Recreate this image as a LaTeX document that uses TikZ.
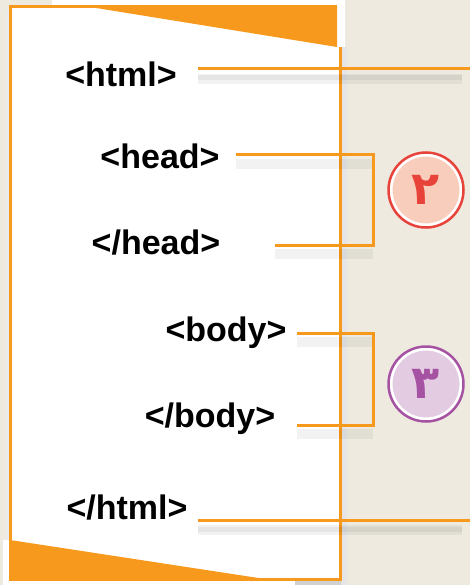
\documentclass[tikz,border=0pt]{standalone}
\usepackage{fontspec}
\setmainfont{Liberation Sans}
\newfontfamily\arabicfont[Script=Arabic]{DejaVu Sans}
\definecolor{bg}{HTML}{EEEAE0}
\definecolor{org}{HTML}{F7991C}
\definecolor{redring}{HTML}{E8433A}
\definecolor{redfill}{HTML}{F9CDBB}
\definecolor{purring}{HTML}{A552A2}
\definecolor{purfill}{HTML}{E3CBE2}
\begin{document}
\begin{tikzpicture}[x=1pt,y=-1pt,
  tag/.style={font=\fontsize{34}{40}\selectfont\bfseries, inner sep=0pt, anchor=center},
  conn/.style={draw=org, line width=3pt},
  shade/.style={draw=black, draw opacity=0.05, line width=10pt},
  shadein/.style={draw=black, draw opacity=0.05, line width=5pt},
  badge/.style={circle, draw=white, line width=3pt, minimum size=70pt, inner sep=0pt},
  digit/.style={font=\arabicfont\bfseries\fontsize{46}{50}\selectfont}]
\useasboundingbox (0,0) rectangle (470,585);
\fill[bg] (0,0) rectangle (470,585);
% box shadow
\fill[black!10] (341,47) rectangle (347,585);
\fill[black!8] (6,10) rectangle (10,585);
% box
\fill[white] (52,0) rectangle (345,47);
\fill[white] (10,7) rectangle (340,580);
\fill[white] (3,540) rectangle (10,585);
\fill[white] (3,580) rectangle (295,585);
\fill[black!18] (295,581) rectangle (341,585);
\fill[org] (90,7) -- (337,7) -- (337,47) -- cycle;
\fill[org] (10,540) -- (265,579) -- (10,579) -- cycle;
\draw[org, line width=3pt] (337,7) -- (10,7) -- (10,579) -- (340,579) -- (340,47);
% texts
\node[tag] (html) at (121,74) {<html>};
\node[tag] (head) at (160,156) {<head>};
\node[tag] (ehead) at (156,243) {</head>};
\node[tag] (body) at (226,333) {<body>};
\node[tag] (ebody) at (210,419) {</body>};
\node[tag] (ehtml) at (127,508) {</html>};
% coordinates
\coordinate (h1) at (198,69);
\coordinate (h2) at (470,69);
\coordinate (e1) at (198,520);
\coordinate (e2) at (470,520);
\coordinate (a1) at (236,155);
\coordinate (a2) at (373,155);
\coordinate (a3) at (373,245);
\coordinate (a4) at (275,245);
\coordinate (b1) at (297,333);
\coordinate (b2) at (373,333);
\coordinate (b3) at (373,425);
\coordinate (b4) at (297,425);
% shadows
\draw[shade] ([yshift=-10pt]h1) -- ([xshift=-8pt,yshift=-10pt]h2);
\draw[shadein] ([yshift=-9pt]h1) -- ([xshift=-8pt,yshift=-9pt]h2);
\draw[shade] ([yshift=-10pt]e1) -- ([xshift=-8pt,yshift=-10pt]e2);
\draw[shadein] ([yshift=-9pt]e1) -- ([xshift=-8pt,yshift=-9pt]e2);
\draw[shade] ([yshift=-9pt]a1) -- ([yshift=-9pt]a2);
\draw[shade] ([yshift=-9pt]b1) -- ([yshift=-9pt]b2);
\draw[shade] ([yshift=-9pt]a4) -- ([yshift=-9pt]a3);
\draw[shade] ([yshift=-9pt]b4) -- ([yshift=-9pt]b3);
% connectors
\draw[conn] (h1) -- (h2);
\draw[conn] (e1) -- (e2);
\draw[conn] (a1) -- (a2) -- (a3) -- (a4);
\draw[conn] (b1) -- (b2) -- (b3) -- (b4);
% badges
\node[badge, fill=redfill] (c2) at (426,190) {};
\draw[redring, line width=2.5pt] (c2.center) circle (37.5);
\node[digit, text=redring] at (c2.center) {٢};
\node[badge, fill=purfill] (c3) at (426,384) {};
\draw[purring, line width=2.5pt] (c3.center) circle (37.5);
\node[digit, text=purring] at (c3.center) {٣};
\end{tikzpicture}
\end{document}
